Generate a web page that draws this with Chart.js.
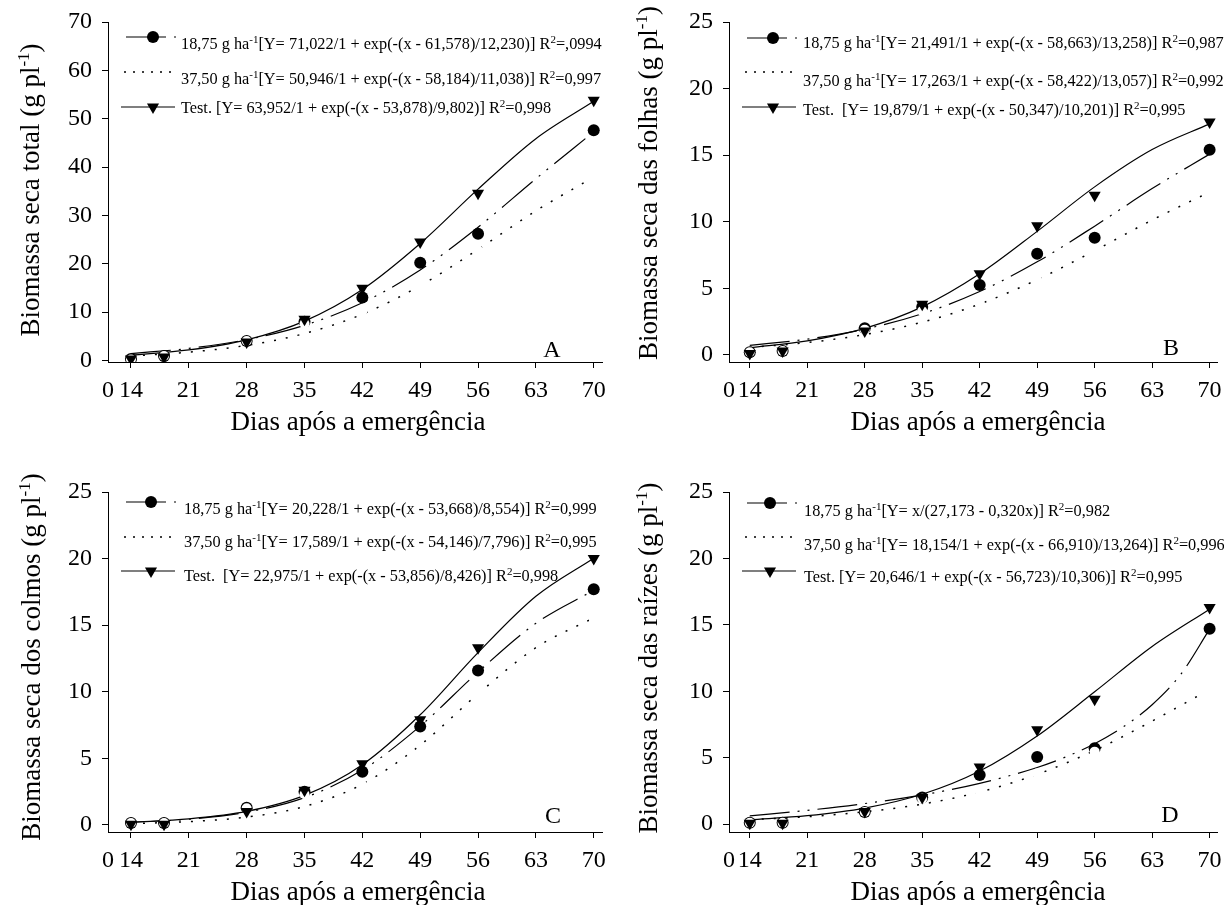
<!DOCTYPE html>
<html>
<head>
<meta charset="utf-8">
<title>Biomassa seca</title>
<script src="https://cdn.jsdelivr.net/npm/chart.js@4.4.1/dist/chart.umd.min.js"></script>
<style>
  body { margin: 0; background: #fff; }
  #wrap { position: relative; width: 1224px; height: 905px; background: #fff; }
  #wrap canvas { position: absolute; }
</style>
</head>
<body>
<div id="wrap">
  <canvas id="chartA" width="612" height="440" style="left:0;top:0"></canvas>
  <canvas id="chartB" width="612" height="440" style="left:612px;top:0"></canvas>
  <canvas id="chartC" width="612" height="465" style="left:0;top:440px"></canvas>
  <canvas id="chartD" width="612" height="465" style="left:612px;top:440px"></canvas>
</div>
<script>
// dias de coleta e eixo x
const sampleDays = [14, 18, 28, 35, 42, 49, 56, 70];
const curveDays = [14, 21, 28, 35, 42, 49, 56, 63, 70];
const curveDaysRoot = [14, 21, 28, 35, 42, 49, 52.5, 56, 59.5, 63, 66.5, 70];
const dayTicks = [14, 21, 28, 35, 42, 49, 56, 63, 70];
const yTicksTotal = [0, 10, 20, 30, 40, 50, 60, 70];
const yTicksPart = [0, 5, 10, 15, 20, 25];

// A - biomassa seca total
const totalLow = [0.3, 0.9, 4.0, 8.0, 13.0, 20.2, 26.2, 47.6];     // 18,75 g ha-1
const totalHigh = [0.2, 0.9, 4.0, 7.6, 10.2, 15.5, 22.8, 38.0];    // 37,50 g ha-1
const totalTest = [0.3, 0.7, 3.8, 8.5, 14.9, 24.5, 34.6, 53.8];
const totalLowFit = [1.42, 2.48, 4.29, 7.26, 11.92, 18.70, 27.55, 37.58, 47.28];
const totalHighFit = [0.91, 1.70, 3.11, 5.56, 9.55, 15.45, 22.96, 30.94, 37.94];
const totalTestFit = [1.08, 2.16, 4.26, 8.13, 14.67, 24.18, 35.42, 45.87, 53.60];

// B - folhas
const leafLow = [0.2, 0.3, 2.0, 3.6, 5.25, 7.6, 8.8, 15.4];
const leafHigh = [0.2, 0.3, 1.9, 3.3, 3.9, 5.6, 7.8, 12.1];
const leafTest = [0.1, 0.3, 1.8, 3.8, 6.1, 9.7, 12.0, 17.5];
const leafLowFit = [0.72, 1.19, 1.94, 3.09, 4.76, 6.99, 9.67, 12.49, 15.08];
const leafHighFit = [0.56, 0.93, 1.53, 2.46, 3.82, 5.65, 7.83, 10.13, 12.23];
const leafTestFit = [0.55, 1.06, 2.00, 3.61, 6.09, 9.28, 12.62, 15.42, 17.35];

// C - colmos
const stemLow = [0.15, 0.15, 1.3, 2.5, 4.0, 7.4, 11.6, 17.7];
const stemHigh = [0.15, 0.15, 1.25, 2.3, 3.0, 6.0, 9.8, 15.5];
const stemTest = [0.05, 0.05, 1.0, 2.6, 4.6, 7.9, 13.3, 20.0];
const stemLowFit = [0.19, 0.43, 0.96, 2.05, 4.12, 7.42, 11.48, 15.14, 17.62];
const stemHighFit = [0.10, 0.25, 0.59, 1.39, 3.06, 5.99, 9.84, 13.31, 15.55];
const stemTestFit = [0.20, 0.46, 1.02, 2.22, 4.52, 8.27, 12.94, 17.17, 20.03];

// D - raizes
const rootLow = [0.1, 0.1, 0.9, 2.0, 3.7, 5.05, 5.7, 14.7];
const rootHigh = [0.1, 0.1, 0.9, 1.9, 2.5, 3.8, 5.45, 10.0];
const rootTest = [0.05, 0.05, 0.95, 2.0, 4.3, 7.1, 9.4, 16.3];
const rootLowFit = [0.62, 1.03, 1.54, 2.19, 3.06, 4.26, 5.06, 6.05, 7.32, 8.98, 11.28, 14.67];
const rootHighFit = [0.33, 0.55, 0.92, 1.50, 2.41, 3.74, 5.54, 7.75, 10.13];
const rootTestFit = [0.32, 0.63, 1.20, 2.24, 3.99, 6.63, 9.96, 13.37, 16.18];

const legendTotal = [
  '18,75 g ha^{-1}[Y= 71,022/1 + exp(-(x - 61,578)/12,230)] R^{2}=,0994',
  '37,50 g ha^{-1}[Y= 50,946/1 + exp(-(x - 58,184)/11,038)] R^{2}=0,997',
  'Test. [Y= 63,952/1 + exp(-(x - 53,878)/9,802)] R^{2}=0,998'
];
const legendLeaf = [
  '18,75 g ha^{-1}[Y= 21,491/1 + exp(-(x - 58,663)/13,258)] R^{2}=0,987',
  '37,50 g ha^{-1}[Y= 17,263/1 + exp(-(x - 58,422)/13,057)] R^{2}=0,992',
  'Test.  [Y= 19,879/1 + exp(-(x - 50,347)/10,201)] R^{2}=0,995'
];
const legendStem = [
  '18,75 g ha^{-1}[Y= 20,228/1 + exp(-(x - 53,668)/8,554)] R^{2}=0,999',
  '37,50 g ha^{-1}[Y= 17,589/1 + exp(-(x - 54,146)/7,796)] R^{2}=0,995',
  'Test.  [Y= 22,975/1 + exp(-(x - 53,856)/8,426)] R^{2}=0,998'
];
const legendRoot = [
  '18,75 g ha^{-1}[Y= x/(27,173 - 0,320x)] R^{2}=0,982',
  '37,50 g ha^{-1}[Y= 18,154/1 + exp(-(x - 66,910)/13,264)] R^{2}=0,996',
  'Test. [Y= 20,646/1 + exp(-(x - 56,723)/10,306)] R^{2}=0,995'
];
const xTitle = 'Dias após a emergência';

const FONT = "'Liberation Serif', 'Times New Roman', serif";
const DASH_LOW = [40, 8, 2, 8, 2, 8];
const DASH_HIGH = [2, 10];

const panels = [
  { id: 'chartA', h: 440, letter: 'A', yTitle: 'Biomassa seca total (g pl^{-1})',
    low: totalLow, high: totalHigh, test: totalTest,
    lowFit: totalLowFit, lowFitDays: curveDays, highFit: totalHighFit, testFit: totalTestFit,
    legend: legendTotal, yTicks: yTicksTotal, yMin: -0.33, yMax: 70,
    xMin: 11.22, xMax: 71, left: 108, right: 602, top: 22, bottom: 362,
    yTitleX: 39, yTitleY: 190, letterX: 552, letterY: 357,
    legX: 121, legMarkerX: 153, legTextX: 181, legLineY: [37, 72, 107], legTextY: [49, 84, 113] },
  { id: 'chartB', h: 440, letter: 'B', yTitle: 'Biomassa seca das folhas (g pl^{-1})',
    low: leafLow, high: leafHigh, test: leafTest,
    lowFit: leafLowFit, lowFitDays: curveDays, highFit: leafHighFit, testFit: leafTestFit,
    legend: legendLeaf, yTicks: yTicksPart, yMin: -0.53, yMax: 25,
    xMin: 11.47, xMax: 70.9, left: 117, right: 609, top: 22, bottom: 362,
    yTitleX: 45, yTitleY: 183, letterX: 559, letterY: 355,
    legX: 130, legMarkerX: 161, legTextX: 191, legLineY: [38, 72, 107], legTextY: [48, 86, 115] },
  { id: 'chartC', h: 465, letter: 'C', yTitle: 'Biomassa seca dos colmos (g pl^{-1})',
    low: stemLow, high: stemHigh, test: stemTest,
    lowFit: stemLowFit, lowFitDays: curveDays, highFit: stemHighFit, testFit: stemTestFit,
    legend: legendStem, yTicks: yTicksPart, yMin: -0.53, yMax: 25,
    xMin: 11.22, xMax: 71, left: 108, right: 602, top: 52, bottom: 392,
    yTitleX: 40, yTitleY: 217, letterX: 553, letterY: 383,
    legX: 121, legMarkerX: 151, legTextX: 184, legLineY: [62, 97, 131], legTextY: [74, 107, 141] },
  { id: 'chartD', h: 465, letter: 'D', yTitle: 'Biomassa seca das raízes (g pl^{-1})',
    low: rootLow, high: rootHigh, test: rootTest,
    lowFit: rootLowFit, lowFitDays: curveDaysRoot, highFit: rootHighFit, testFit: rootTestFit,
    legend: legendRoot, yTicks: yTicksPart, yMin: -0.6, yMax: 25,
    xMin: 11.47, xMax: 70.9, left: 117, right: 609, top: 52, bottom: 392,
    yTitleX: 45, yTitleY: 218, letterX: 558, letterY: 382,
    legX: 130, legMarkerX: 158, legTextX: 192, legLineY: [63, 97, 131], legTextY: [76, 110, 142] }
];

function toPoints(xs, ys) {
  return ys.map((y, i) => ({ x: xs[i], y: y }));
}

// text with ^{...} superscripts
function richParts(str) {
  return str.split(/\^\{([^}]*)\}/).map((t, i) => ({ text: t, sup: i % 2 === 1 }));
}

function richWidth(ctx, str, size, supSize) {
  let w = 0;
  richParts(str).forEach(p => {
    ctx.font = (p.sup ? supSize : size) + 'px ' + FONT;
    w += ctx.measureText(p.text).width;
  });
  return w;
}

function drawRich(ctx, str, x, y, size, supSize, rise) {
  let cx = x;
  richParts(str).forEach(p => {
    ctx.font = (p.sup ? supSize : size) + 'px ' + FONT;
    ctx.fillText(p.text, cx, p.sup ? y - rise : y);
    cx += ctx.measureText(p.text).width;
  });
}

function downTriangle(ctx, x, y, r) {
  const s = Math.sin(Math.PI / 3) * r;
  ctx.beginPath();
  ctx.moveTo(x, y + r);
  ctx.lineTo(x - s, y - r / 2);
  ctx.lineTo(x + s, y - r / 2);
  ctx.closePath();
  ctx.fill();
}

function decorPlugin(p) {
  return {
    id: 'decor',
    afterDraw(chart) {
      const ctx = chart.ctx;
      ctx.save();
      ctx.fillStyle = '#000';
      ctx.strokeStyle = '#000';
      ctx.textAlign = 'left';
      ctx.textBaseline = 'alphabetic';

      // legend
      ctx.lineWidth = 1.2;
      ctx.setLineDash(DASH_LOW);
      ctx.beginPath();
      ctx.moveTo(p.legX + 5, p.legLineY[0]);
      ctx.lineTo(p.legX + 55, p.legLineY[0]);
      ctx.stroke();
      ctx.setLineDash([2, 7]);
      ctx.lineWidth = 1.5;
      ctx.beginPath();
      ctx.moveTo(p.legX + 3, p.legLineY[1]);
      ctx.lineTo(p.legX + 50, p.legLineY[1]);
      ctx.stroke();
      ctx.setLineDash([]);
      ctx.lineWidth = 1.2;
      ctx.beginPath();
      ctx.moveTo(p.legX, p.legLineY[2]);
      ctx.lineTo(p.legX + 54, p.legLineY[2]);
      ctx.stroke();
      ctx.beginPath();
      ctx.arc(p.legMarkerX, p.legLineY[0], 6, 0, Math.PI * 2);
      ctx.fill();
      downTriangle(ctx, p.legMarkerX, p.legLineY[2], 7);
      p.legend.forEach((t, i) => drawRich(ctx, t, p.legTextX, p.legTextY[i], 16.3, 11, 6.5));

      // x title
      ctx.font = '27px ' + FONT;
      ctx.textAlign = 'center';
      ctx.fillText(xTitle, (p.left + p.right) / 2 + 3, p.bottom + 68);

      // panel letter
      ctx.font = '24px ' + FONT;
      ctx.fillText(p.letter, p.letterX, p.letterY);

      // y title, rotated
      ctx.textAlign = 'left';
      ctx.translate(p.yTitleX, p.yTitleY);
      ctx.rotate(-Math.PI / 2);
      const w = richWidth(ctx, p.yTitle, 27, 17);
      drawRich(ctx, p.yTitle, -w / 2, 0, 27, 17, 10);
      ctx.restore();
    }
  };
}

function makeChart(p) {
  const lineBase = { showLine: true, pointRadius: 0, borderColor: '#000', fill: false,
                     cubicInterpolationMode: 'monotone', borderCapStyle: 'butt' };
  return new Chart(document.getElementById(p.id), {
    type: 'scatter',
    data: {
      datasets: [
        { label: 'Test.', data: toPoints(sampleDays, p.test), pointStyle: 'triangle', pointRotation: 180,
          pointRadius: 7, backgroundColor: '#000', borderWidth: 0, showLine: false, order: 0 },
        { label: '37,50', data: toPoints(sampleDays, p.high), pointStyle: 'circle',
          pointRadius: 5, backgroundColor: '#fff', borderWidth: 0, showLine: false, order: 1 },
        { label: '18,75', data: toPoints(sampleDays, p.low), pointStyle: 'circle',
          pointRadius: 6, backgroundColor: '#000', borderWidth: 0, showLine: false, order: 2 },
        Object.assign({ data: toPoints(p.lowFitDays, p.lowFit), borderWidth: 1.2, borderDash: DASH_LOW, order: 3 }, lineBase),
        Object.assign({ data: toPoints(curveDays, p.highFit), borderWidth: 1.5, borderDash: DASH_HIGH, order: 4 }, lineBase),
        Object.assign({ data: toPoints(curveDays, p.testFit), borderWidth: 1.2, order: 5 }, lineBase)
      ]
    },
    options: {
      responsive: false,
      animation: false,
      events: [],
      layout: { padding: { left: 0, top: p.top, right: 612 - p.right, bottom: p.h - p.bottom - 40 } },
      plugins: { legend: { display: false }, tooltip: { enabled: false } },
      scales: {
        x: {
          type: 'linear', min: p.xMin, max: p.xMax,
          afterBuildTicks: s => { s.ticks = [p.xMin].concat(dayTicks).map(v => ({ value: v })); },
          afterFit: s => { s.height = 40; s.paddingLeft = 0; s.paddingRight = 0; },
          ticks: { color: '#000', font: { family: FONT, size: 24 }, padding: 8, maxRotation: 0, autoSkip: false,
                   callback: (v, i) => i === 0 ? '0' : String(v) },
          grid: { drawOnChartArea: false, tickLength: 6, tickWidth: 1,
                  tickColor: c => c.index === 0 ? 'rgba(0,0,0,0)' : '#000' },
          border: { color: '#000', width: 1 }
        },
        y: {
          type: 'linear', min: p.yMin, max: p.yMax,
          afterBuildTicks: s => { s.ticks = p.yTicks.map(v => ({ value: v })); },
          afterFit: s => { s.width = p.left; s.paddingTop = 0; s.paddingBottom = 0; },
          ticks: { color: '#000', font: { family: FONT, size: 24 }, padding: 10, autoSkip: false },
          grid: { drawOnChartArea: false, tickLength: 6, tickWidth: 1, tickColor: '#000' },
          border: { color: '#000', width: 1 }
        }
      }
    },
    plugins: [decorPlugin(p)]
  });
}

panels.forEach(makeChart);
</script>
</body>
</html>
